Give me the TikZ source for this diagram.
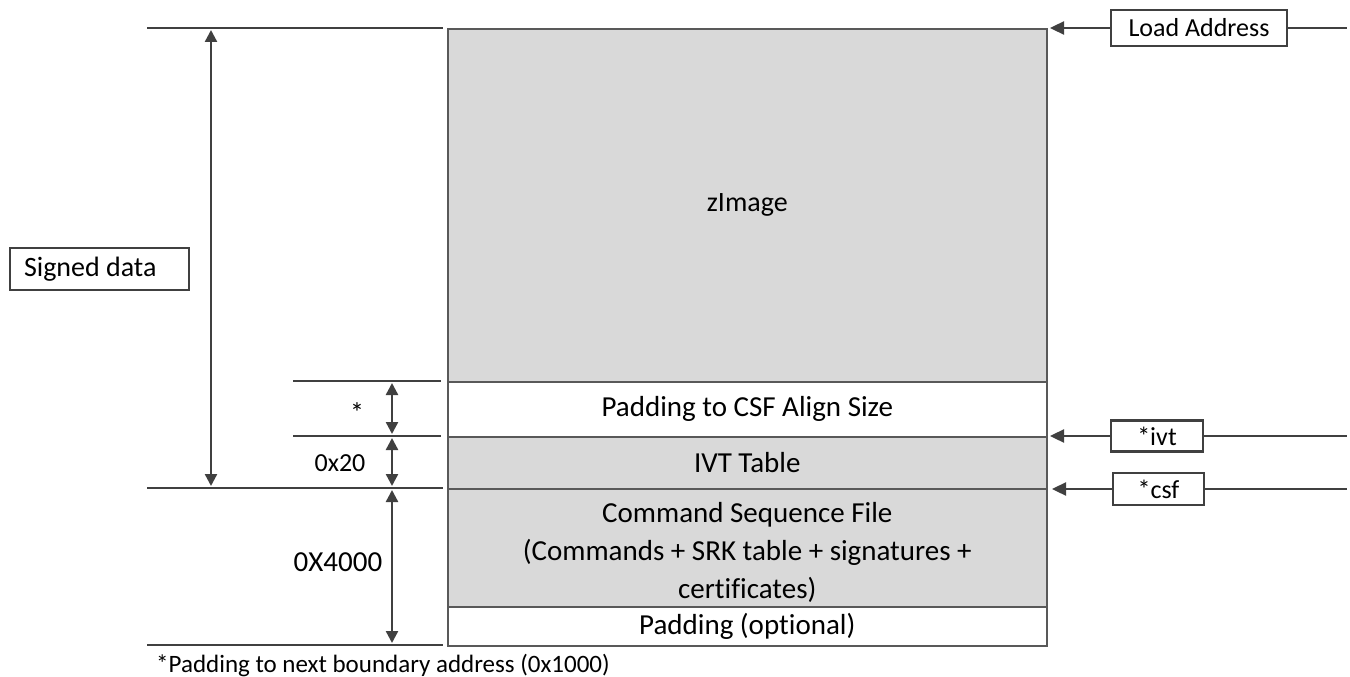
\documentclass[tikz,border=0pt]{standalone}
\usepackage{fontspec}
\setmainfont[RawFeature=-liga]{Carlito}
\usetikzlibrary{arrows.meta}
\definecolor{linec}{HTML}{404040}
\definecolor{cellgray}{HTML}{D9D9D9}
\definecolor{cellline}{HTML}{595959}
\tikzset{
  cell/.style={draw=cellline, line width=1.6pt, minimum width=599pt, inner sep=0pt, anchor=north west, align=center, font=\fontsize{29}{38}\selectfont},
  graycell/.style={cell, fill=cellgray},
  whitecell/.style={cell, fill=white},
  tag/.style={draw=linec, line width=2.2pt, fill=white, inner sep=0pt, font=\fontsize{26}{30}\selectfont},
  guide/.style={draw=linec, line width=2.4pt},
  dim/.style={draw=linec, line width=2.4pt, {Triangle[length=12pt,width=12pt]}-{Triangle[length=12pt,width=12pt]}},
  pointer/.style={draw=linec, line width=2.4pt, -{Triangle[length=14pt,width=13pt]}},
  lbl/.style={font=\fontsize{26}{30}\selectfont, inner sep=0pt}
}
\begin{document}
\begin{tikzpicture}[x=1pt,y=-1pt]
\useasboundingbox (0,0) rectangle (1350,677);

% memory layout cells
\node[graycell, minimum height=353pt, font=\fontsize{28}{34}\selectfont] (zimg) at (447,28) {zImage};
\node[whitecell, minimum height=55pt] (pad) at (447,381) {Padding to CSF Align Size};
\node[graycell, minimum height=52pt] (ivt) at (447,436) {IVT Table};
\node[graycell, minimum height=118pt] (csf) at (447,488) {\rule{0pt}{30pt}Command Sequence File\\(Commands + SRK table + signatures +\\certificates)};
\node[whitecell, minimum height=39pt] (padopt) at (447,606) {Padding (optional)};

% boundary guide lines on the left
\coordinate (gTopL) at (147,28);   \coordinate (gTopR) at (443,28);
\coordinate (gA) at (293,381);     \coordinate (gAR) at (441,381);
\coordinate (gB) at (293,436);     \coordinate (gBR) at (441,436);
\coordinate (gC) at (147,488);     \coordinate (gCR) at (443,488);
\coordinate (gD) at (147,645);     \coordinate (gDR) at (443,645);
\draw[guide] (gTopL) -- (gTopR);
\draw[guide] (gA) -- (gAR);
\draw[guide] (gB) -- (gBR);
\draw[guide] (gC) -- (gCR);
\draw[guide] (gD) -- (gDR);

% dimension arrows
\coordinate (sTop) at (211,30);  \coordinate (sBot) at (211,486);
\draw[dim] (sTop) -- (sBot);
\coordinate (d1) at (392,383); \coordinate (d2) at (392,434);
\coordinate (d3) at (392,438); \coordinate (d4) at (392,486);
\coordinate (d5) at (392,490); \coordinate (d6) at (392,643);
\draw[dim] (d1) -- (d2);
\draw[dim] (d3) -- (d4);
\draw[dim] (d5) -- (d6);

\node[lbl, font=\fontsize{28}{30}\selectfont] (star) at (357,413) {*};
\node[lbl] (x20) at (340,463) {0x20};
\node[lbl, font=\fontsize{29}{34}\selectfont] (x4000) at (338,562) {0X4000};

\node[tag, minimum width=179pt, minimum height=42pt, font=\fontsize{28}{32}\selectfont] (signed) at (99.5,269) {\makebox[151pt][l]{Signed data}};

% address pointers on the right
\node[tag, minimum width=176pt, minimum height=36pt] (load) at (1199,28) {Load Address};
\node[tag, minimum width=92pt, minimum height=31pt] (ivtp) at (1157,436) {*ivt};
\node[tag, minimum width=91pt, minimum height=32pt] (csfp) at (1158.5,489) {*csf};
\coordinate (rLoad) at (1347,28);
\coordinate (rIvt) at (1347,436);
\coordinate (rCsf) at (1347,489);
\coordinate (tLoad) at (1050,28);
\coordinate (tIvt) at (1050,436);
\coordinate (tCsf) at (1052,489);
\draw[guide] (load.east) -- (rLoad);
\draw[pointer] (load.west) -- (tLoad);
\draw[guide] (ivtp.east) -- (rIvt);
\draw[pointer] (ivtp.west) -- (tIvt);
\draw[guide] (csfp.east) -- (rCsf);
\draw[pointer] (csfp.west) -- (tCsf);

\node[font=\fontsize{25}{29}\selectfont, anchor=west, inner sep=0pt] (note) at (156,665) {*Padding to next boundary address (0x1000)};
\end{tikzpicture}
\end{document}
